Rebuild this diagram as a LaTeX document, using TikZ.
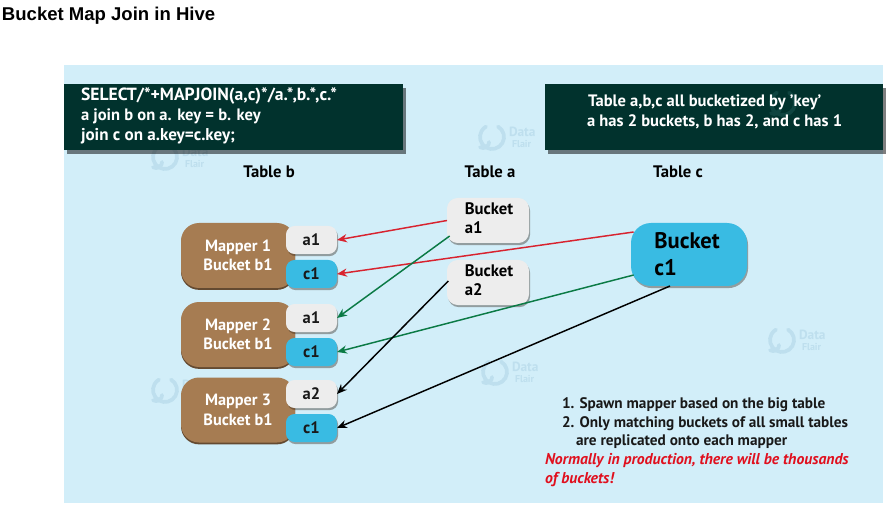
\documentclass[tikz,border=0pt]{standalone}
\usepackage{fontspec}
\setmainfont{PT Sans}
\newfontfamily\titlefont{Liberation Sans}
\usetikzlibrary{shadows,arrows.meta}
\definecolor{panel}{HTML}{D2EEF9}
\definecolor{darkbox}{HTML}{01322D}
\definecolor{brownbox}{HTML}{A67C52}
\definecolor{cyanbox}{HTML}{39BBE3}
\definecolor{lightbox}{HTML}{EDEDED}
\definecolor{redline}{HTML}{D8232F}
\definecolor{greenline}{HTML}{0B7A45}
\definecolor{redtext}{HTML}{E0101E}
\definecolor{wmark}{HTML}{BEDFEE}
\definecolor{wmdark}{HTML}{0F4440}
\def\px{0.75pt}
\tikzset{x=0.75pt,y=-0.75pt,
 every node/.style={inner sep=0pt,outer sep=0pt},
 softshadow/.style={drop shadow={shadow xshift=0.8pt,shadow yshift=-1.6pt,opacity=.4,fill=black!70!brownbox}},
 darkpanel/.style={fill=darkbox,drop shadow={shadow xshift=2.2pt,shadow yshift=-2.8pt,opacity=.5,fill=black}},
 paneltext/.style={text=white,font=\bfseries\fontsize{12.4pt}{15pt}\selectfont},
 mapperbox/.style={fill=brownbox,text=white,rounded corners=13.5pt,minimum width=114*\px,minimum height=65*\px,align=center,font=\bfseries\fontsize{12.2pt}{14.4pt}\selectfont,drop shadow={shadow xshift=0pt,shadow yshift=-1.4pt,opacity=1,fill=brownbox!60!black}},
 slotbox/.style={rounded corners=6.5pt,minimum width=51*\px,minimum height=28*\px,font=\bfseries\fontsize{12.4pt}{14pt}\selectfont,text=black!90,softshadow},
 slota/.style={slotbox,fill=lightbox},
 slotc/.style={slotbox,fill=cyanbox},
 bucketa/.style={fill=lightbox,rounded corners=8pt,minimum width=82*\px,minimum height=45*\px,softshadow},
 bucketatext/.style={align=left,font=\bfseries\fontsize{12.5pt}{14.6pt}\selectfont},
 bucketc/.style={fill=cyanbox,rounded corners=15pt,minimum width=116*\px,minimum height=63*\px,softshadow},
 bucketctext/.style={align=left,font=\bfseries\fontsize{16.9pt}{20.3pt}\selectfont},
 header/.style={font=\bfseries\fontsize{12.5pt}{14pt}\selectfont,text=black},
 note/.style={anchor=base west,font=\bfseries\fontsize{11.45pt}{14pt}\selectfont,text=black!90},
 rednote/.style={anchor=base west,font=\bfseries\itshape\fontsize{11.75pt}{14pt}\selectfont,text=redtext},
 link/.style={line width=1.1pt,-{Stealth[length=7.5pt,width=6.2pt]}},
 wmtext/.style={font=\bfseries\fontsize{10pt}{10pt}\selectfont,anchor=west},
 wmsmall/.style={font=\bfseries\fontsize{7.5pt}{8pt}\selectfont,anchor=west},
 wmlogo/.style={line width=2.8pt,line cap=round}
}
\newcommand\wmicon[3]{%
 \draw[wmlogo,draw=#3] (#1+6,#2-10.4) arc (-60:240:12);
 \draw[wmlogo,draw=#3] (#1-3,#2+5) arc (180:300:-6);}
\newcommand\wm[3]{%
 \wmicon{#1}{#2}{#3}
 \node[wmtext,text=#3] at (#1+17,#2-5) {Data};
 \node[wmsmall,text=#3] at (#1+20,#2+7) {Flair};}
\begin{document}
\begin{tikzpicture}
\useasboundingbox (0,0) rectangle (892,513);
\fill[white] (0,0) rectangle (892,513);
\node[anchor=base west,font=\titlefont\bfseries\fontsize{13.9pt}{15pt}\selectfont] (title) at (2,20.5) {Bucket Map Join in Hive};
\fill[panel] (64,65) rectangle (883,503);
\wm{165}{157}{wmark}\wm{492}{137}{wmark}\wm{782}{340}{wmark}\wm{165}{390}{wmark}\wm{495}{372}{wmark}
\node[darkpanel,minimum width=339*\px,minimum height=66*\px] (sql) at (233.5,117) {};
\node[darkpanel,minimum width=338*\px,minimum height=66*\px] (info) at (714,117) {};
\wmicon{783}{103}{wmdark}
\node[paneltext,anchor=base west,font=\bfseries\fontsize{13.2pt}{15pt}\selectfont] (sql1) at (81,101) {SELECT/*+MAPJOIN(a,c)*/a.*,b.*,c.*};
\node[paneltext,anchor=base west] (sql2) at (81,121) {a join b on a. key = b. key};
\node[paneltext,anchor=base west,font=\bfseries\fontsize{12.8pt}{15pt}\selectfont] (sql3) at (81,141) {join c on a.key=c.key;};
\node[paneltext,anchor=base west] (info1) at (588,107) {Table a,b,c all bucketized by 'key'};
\node[paneltext,anchor=base west] (info2) at (587,127) {a has 2 buckets, b has 2, and c has 1};
\node[header] (tb) at (269,172) {Table b};
\node[header] (ta) at (490,172) {Table a};
\node[header] (tc) at (678,172) {Table c};
\node[mapperbox] (m1) at (238,255.5) {Mapper 1\\Bucket b1};
\node[mapperbox] (m2) at (238,334.5) {Mapper 2\\Bucket b1};
\node[mapperbox] (m3) at (238,410) {Mapper 3\\Bucket b1};
\node[slota] (s1a) at (311.5,240) {a1};
\node[slotc] (s1c) at (311.5,274) {c1};
\node[slota] (s2a) at (311.5,318) {a1};
\node[slotc] (s2c) at (311.5,352) {c1};
\node[slota] (s3a) at (311.5,394) {a2};
\node[slotc] (s3c) at (311.5,428) {c1};
\node[bucketa] (ba1) at (488,220.5) {};
\node[bucketatext] (ba1t) at (489,218) {Bucket\\a1};
\node[bucketa] (ba2) at (488,282.5) {};
\node[bucketatext] (ba2t) at (489,280) {Bucket\\a2};
\node[bucketc] (bc1) at (689,254.5) {};
\node[bucketctext] (bc1t) at (687,254.5) {Bucket\\c1};
\draw[link,redline] (ba1.west) -- (s1a.east);
\draw[link,redline] ([xshift=2pt]bc1.west |- 0,232) -- (s1c.east);
\draw[link,greenline] ([xshift=2pt]ba1.west |- 0,236) -- (s2a.east);
\draw[link,greenline] ([xshift=2pt]bc1.west |- 0,275) -- (s2c.east);
\draw[link,black] ([xshift=1pt]ba2.west |- 0,281) -- (s3a.east);
\draw[link,black] (bc1.south -| 670,0) -- (s3c.east);
\node[note] (n1) at (562,408) {1. Spawn mapper based on the big table};
\node[note] (n2) at (562,427) {2. Only matching buckets of all small tables};
\node[note] (n3) at (576,445) {are replicated onto each mapper};
\node[rednote] (n4) at (545,464) {Normally in production, there will be thousands};
\node[rednote] (n5) at (545,483) {of buckets!};
\end{tikzpicture}
\end{document}
